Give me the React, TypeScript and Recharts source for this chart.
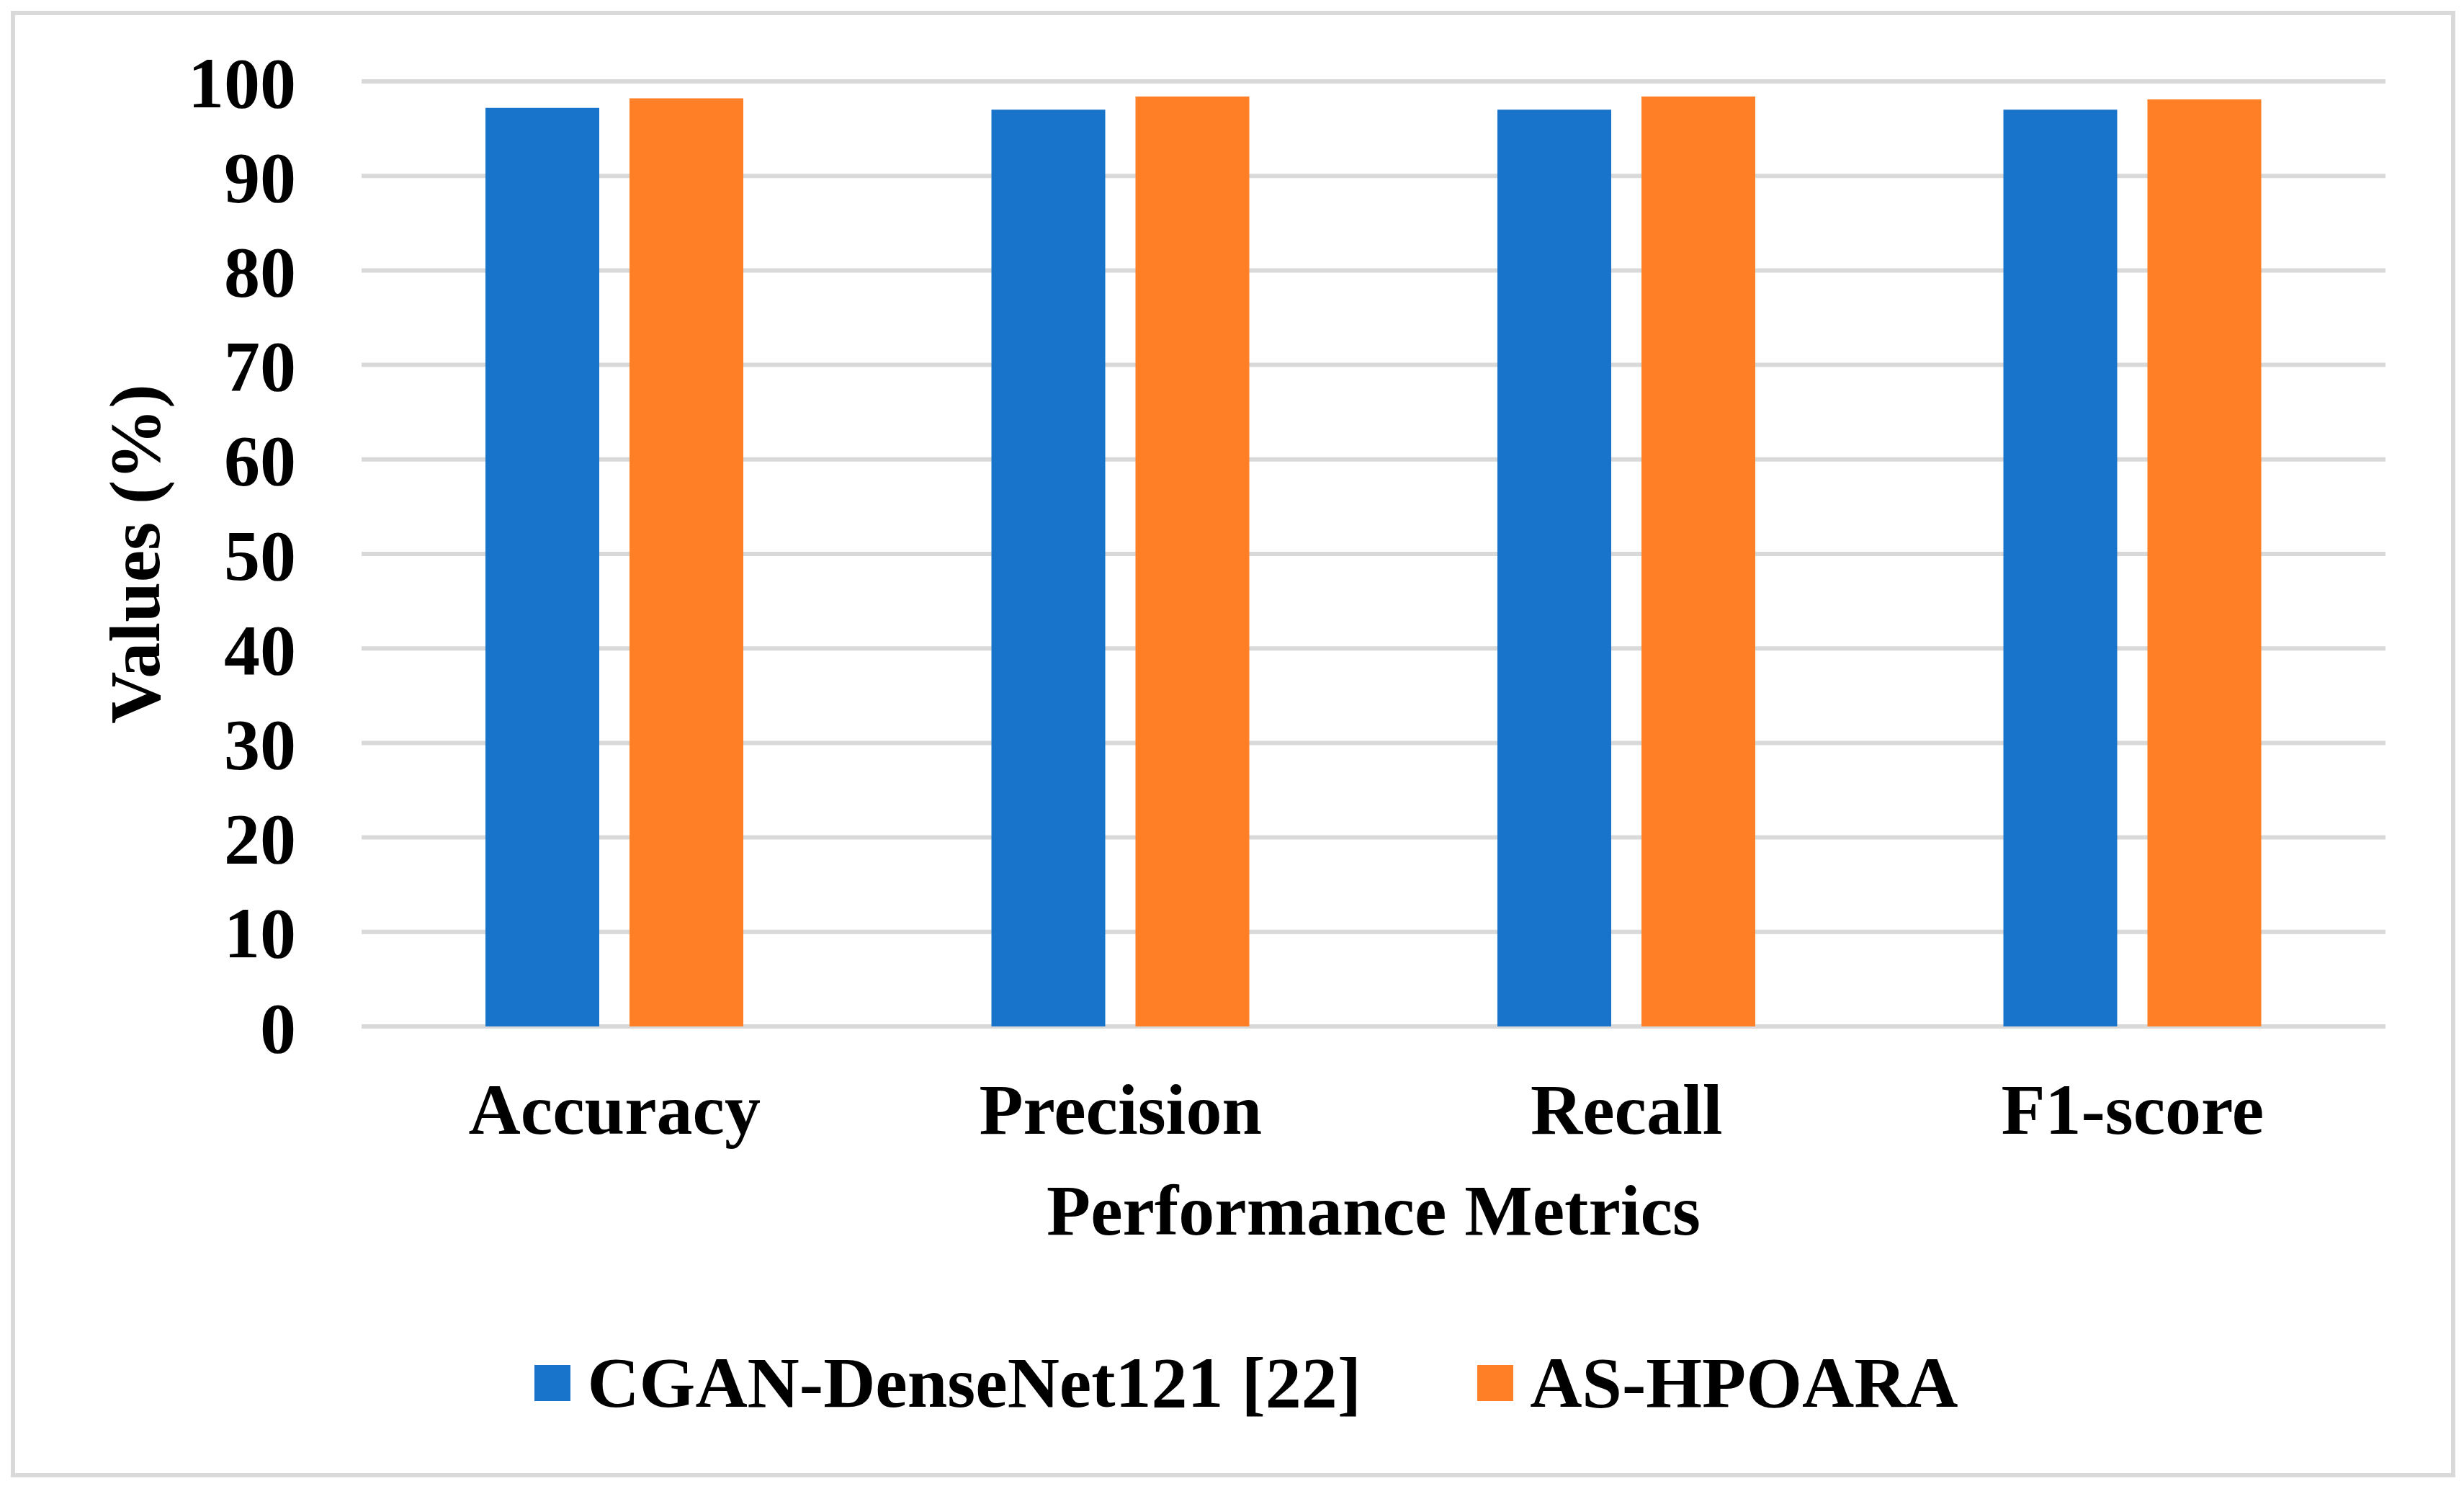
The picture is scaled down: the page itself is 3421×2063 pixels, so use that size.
import React from 'react';
import { BarChart, Bar, XAxis, YAxis, CartesianGrid, Legend } from 'recharts';

const metrics = ['Accuracy', 'Precision', 'Recall', 'F1-score'];
const cganDenseNet = [97.2, 97.0, 97.0, 97.0];
const asHpoara = [98.2, 98.4, 98.4, 98.1];
const yTicks = [0, 10, 20, 30, 40, 50, 60, 70, 80, 90, 100];

const seriesNames = ['CGAN-DenseNet121 [22]', 'AS-HPOARA'];
const seriesColors = ['#1874CA', '#FF7F27'];

const data = metrics.map((m, i) => ({
  metric: m,
  cgan: cganDenseNet[i],
  ashpoara: asHpoara[i],
}));

const FONT = '"Liberation Serif", "Times New Roman", serif';

const LegendContent = () => (
  <div
    style={{
      height: 100,
      display: 'flex',
      justifyContent: 'center',
      alignItems: 'center',
      paddingLeft: 40,
      fontFamily: FONT,
      fontWeight: 'bold',
      fontSize: 100,
      lineHeight: '100px',
      color: '#000',
    }}
  >
    {seriesNames.map((name, i) => (
      <div
        key={name}
        style={{ display: 'flex', alignItems: 'center', marginLeft: i === 0 ? 0 : 161 }}
      >
        <span style={{ width: 50, height: 50, background: seriesColors[i], marginRight: 23 }} />
        <span>{name}</span>
      </div>
    ))}
  </div>
);

const App: React.FC = () => {
  const tickStyle = { fontFamily: FONT, fontWeight: 'bold', fontSize: 100, fill: '#000' };
  return (
    <div style={{ position: 'relative', width: 3421, height: 2063, background: '#fff' }}>
      <style>{'body { margin: 0; }'}</style>
      <div
        style={{
          position: 'absolute',
          left: 15,
          top: 15,
          width: 3394,
          height: 2036,
          border: '6px solid #d9d9d9',
          boxSizing: 'border-box',
        }}
      />
      <BarChart
        width={3421}
        height={2063}
        data={data}
        margin={{ top: 113, right: 109, left: 0, bottom: 93 }}
        barGap={42}
      >
        <CartesianGrid vertical={false} stroke="#d9d9d9" strokeWidth={6} />
        <XAxis
          dataKey="metric"
          height={445}
          axisLine={false}
          tickLine={false}
          tickSize={0}
          tickMargin={78}
          tick={tickStyle}
          label={{
            value: 'Performance Metrics',
            position: 'insideBottom',
            offset: 156,
            style: { ...tickStyle, textAnchor: 'middle' },
          }}
        />
        <YAxis
          width={502}
          domain={[0, 100]}
          ticks={yTicks}
          interval={0}
          axisLine={false}
          tickLine={false}
          tickSize={0}
          tickMargin={91}
          tick={tickStyle}
          label={{
            value: 'Values (%)',
            angle: -90,
            position: 'insideLeft',
            offset: 185,
            style: { ...tickStyle, textAnchor: 'middle' },
          }}
        />
        <Legend verticalAlign="bottom" wrapperStyle={{ left: 0, width: 3421 }} content={<LegendContent />} />
        <Bar dataKey="cgan" name={seriesNames[0]} fill={seriesColors[0]} barSize={158} isAnimationActive={false} />
        <Bar dataKey="ashpoara" name={seriesNames[1]} fill={seriesColors[1]} barSize={158} isAnimationActive={false} />
      </BarChart>
    </div>
  );
};

export default App;
